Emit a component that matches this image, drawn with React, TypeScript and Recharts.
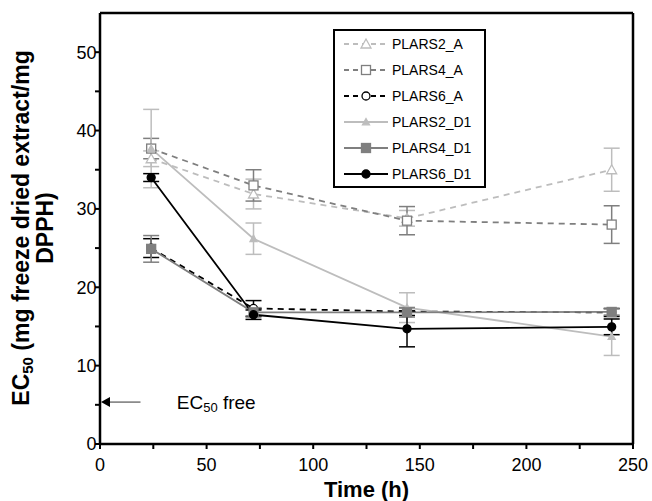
import React from "react";
import {
  LineChart,
  Line,
  XAxis,
  YAxis,
  ErrorBar,
  Legend,
  ReferenceLine,
  ReferenceDot,
} from "recharts";

const times = [24, 72, 144, 240];
const plars2A = [36.4, 31.9, 28.8, 35.0];
const plars2AErr = [1.0, 1.9, 1.0, 2.75];
const plars4A = [37.7, 33.0, 28.5, 28.0];
const plars4AErr = [1.3, 2.0, 1.8, 2.4];
const plars6A = [25.0, 17.3, 16.9, 16.8];
const plars6AErr = [1.2, 1.0, 0.5, 0.5];
const plars2D1 = [37.7, 26.2, 17.4, 13.7];
const plars2D1Err = [5.0, 2.0, 1.9, 2.4];
const plars4D1 = [24.9, 16.8, 16.8, 16.85];
const plars4D1Err = [1.7, 0.6, 0.6, 0.4];
const plars6D1 = [34.0, 16.5, 14.7, 14.95];
const plars6D1Err = [0.5, 0.6, 2.3, 1.0];

const xTicks = [0, 25, 50, 75, 100, 125, 150, 175, 200, 225, 250];
const yTicks = [0, 5, 10, 15, 20, 25, 30, 35, 40, 45, 50];
const ec50Free = 5.35;

const data = times.map((t, i) => ({
  t,
  a2: plars2A[i],
  a2e: plars2AErr[i],
  a4: plars4A[i],
  a4e: plars4AErr[i],
  a6: plars6A[i],
  a6e: plars6AErr[i],
  d2: plars2D1[i],
  d2e: plars2D1Err[i],
  d4: plars4D1[i],
  d4e: plars4D1Err[i],
  d6: plars6D1[i],
  d6e: plars6D1Err[i],
}));

const LIGHT = "#bdbdbd";
const MID = "#7f7f7f";
const DARK = "#000000";
const FONT = "'Liberation Sans', Arial, sans-serif";

type Shape = "triangle" | "square" | "circle" | "smalltri";

const marker = (shape: Shape, x: number, y: number, color: string, open: boolean, key?: string) => {
  const fill = open ? "#fff" : color;
  if (shape === "triangle" || shape === "smalltri") {
    const s = shape === "triangle" ? 5 : 3.5;
    return (
      <polygon
        key={key}
        points={`${x},${y - s} ${x - s},${y + s * 0.8} ${x + s},${y + s * 0.8}`}
        fill={fill}
        stroke={color}
        strokeWidth={1.3}
      />
    );
  }
  if (shape === "square") {
    return <rect key={key} x={x - 4.5} y={y - 4.5} width={9} height={9} fill={fill} stroke={color} strokeWidth={1.3} />;
  }
  return <circle key={key} cx={x} cy={y} r={4} fill={fill} stroke={color} strokeWidth={1.3} />;
};

const dotFn = (shape: Shape, color: string, open: boolean) => (props: any) =>
  marker(shape, props.cx, props.cy, color, open, `${shape}-${color}-${props.index}`);

const legendItems = [
  { name: "PLARS2_A", color: LIGHT, dash: true, shape: "triangle" as Shape, open: true },
  { name: "PLARS4_A", color: MID, dash: true, shape: "square" as Shape, open: true },
  { name: "PLARS6_A", color: DARK, dash: true, shape: "circle" as Shape, open: true },
  { name: "PLARS2_D1", color: LIGHT, dash: false, shape: "smalltri" as Shape, open: false },
  { name: "PLARS4_D1", color: MID, dash: false, shape: "square" as Shape, open: false },
  { name: "PLARS6_D1", color: DARK, dash: false, shape: "circle" as Shape, open: false },
];

const renderLegend = () => (
  <div
    style={{
      border: "2px solid #000",
      background: "#fff",
      width: 153,
      height: 159,
      boxSizing: "border-box",
      padding: "0 0 0 8px",
      fontFamily: FONT,
      fontSize: 14,
    }}
  >
    {legendItems.map((it) => (
      <div key={it.name} style={{ display: "flex", alignItems: "center", height: 26 }}>
        <svg width={46} height={14}>
          <line
            x1={1}
            y1={7}
            x2={45}
            y2={7}
            stroke={it.color}
            strokeWidth={1.8}
            strokeDasharray={it.dash ? "5 4" : undefined}
          />
          {marker(it.shape, 23, 7, it.color, it.open)}
        </svg>
        <span style={{ marginLeft: 3, color: "#000" }}>{it.name}</span>
      </div>
    ))}
  </div>
);

const FreeLabel = (props: any) => (
  <text x={props.cx} y={props.cy} dominantBaseline="central" fontFamily={FONT} fontSize={19} fill="#000">
    EC
    <tspan fontSize={13} dy={5}>50</tspan>
    <tspan dy={-5}> free</tspan>
  </text>
);

const ArrowHead = (props: any) => (
  <polygon
    points={`${props.cx + 1},${props.cy} ${props.cx + 10},${props.cy - 5} ${props.cx + 10},${props.cy + 5}`}
    fill="#000"
  />
);

const YTitle = () => (
  <g fontFamily={FONT} fontSize={23} fontWeight="bold" fill="#000">
    <text x={21} y={228} transform="rotate(-90 21 228)" textAnchor="middle" dominantBaseline="central">
      EC
      <tspan fontSize={15} dy={6}>50</tspan>
      <tspan dy={-6}> (mg freeze dried extract/mg</tspan>
    </text>
    <text x={45} y={228} transform="rotate(-90 45 228)" textAnchor="middle" dominantBaseline="central">
      DPPH)
    </text>
  </g>
);

const XTitle = (props: any) => {
  const vb = props.viewBox || { x: 100, width: 533 };
  return (
    <text
      x={vb.x + vb.width / 2}
      y={489}
      textAnchor="middle"
      dominantBaseline="central"
      fontFamily={FONT}
      fontSize={22}
      fontWeight="bold"
      fill="#000"
    >
      Time (h)
    </text>
  );
};

export default function App() {
  return (
    <div style={{ position: "absolute", left: 0, top: 0, background: "#fff" }}>
      <LineChart width={652} height={501} data={data} margin={{ top: 13, right: 19, left: 40, bottom: 0 }}>
        <XAxis
          dataKey="t"
          type="number"
          domain={[0, 250]}
          ticks={xTicks}
          tickFormatter={(v: number) => (v % 50 === 0 ? String(v) : "")}
          height={57}
          stroke="#000"
          axisLine={{ stroke: "#000", strokeWidth: 2.5 }}
          tickLine={{ stroke: "#000", strokeWidth: 2 }}
          tickSize={5}
          tick={{ fill: "#000", fontSize: 18, fontFamily: FONT, dy: 7 }}
          label={{ content: XTitle }}
        />
        <YAxis
          type="number"
          domain={[0, 55]}
          ticks={yTicks}
          tickFormatter={(v: number) => (v % 10 === 0 ? String(v) : "")}
          width={60}
          stroke="#000"
          axisLine={{ stroke: "#000", strokeWidth: 2.5 }}
          tickLine={{ stroke: "#000", strokeWidth: 2 }}
          tickSize={5}
          tick={{ fill: "#000", fontSize: 18, fontFamily: FONT, dx: 3.5 }}
          label={{ content: YTitle }}
        />
        <ReferenceLine y={55} stroke="#000" strokeWidth={2.5} />
        <ReferenceLine x={250} stroke="#000" strokeWidth={2.5} />
        <ReferenceLine
          segment={[
            { x: 4, y: ec50Free },
            { x: 19, y: ec50Free },
          ]}
          stroke="#333"
          strokeWidth={1}
        />
        <ReferenceDot x={0} y={ec50Free} r={0} shape={ArrowHead} />
        <ReferenceDot x={36} y={ec50Free} r={0} shape={FreeLabel} />

        <Line dataKey="a2" stroke={LIGHT} strokeWidth={1.8} strokeDasharray="6 5" dot={dotFn("triangle", LIGHT, true)} isAnimationActive={false}>
          <ErrorBar dataKey="a2e" direction="y" width={8} stroke={LIGHT} strokeWidth={1.5} />
        </Line>
        <Line dataKey="a4" stroke={MID} strokeWidth={1.8} strokeDasharray="6 5" dot={dotFn("square", MID, true)} isAnimationActive={false}>
          <ErrorBar dataKey="a4e" direction="y" width={8} stroke={MID} strokeWidth={1.5} />
        </Line>
        <Line dataKey="a6" stroke={DARK} strokeWidth={1.8} strokeDasharray="6 5" dot={dotFn("circle", DARK, true)} isAnimationActive={false}>
          <ErrorBar dataKey="a6e" direction="y" width={8} stroke={DARK} strokeWidth={1.5} />
        </Line>
        <Line dataKey="d2" stroke={LIGHT} strokeWidth={1.8} dot={dotFn("smalltri", LIGHT, false)} isAnimationActive={false}>
          <ErrorBar dataKey="d2e" direction="y" width={8} stroke={LIGHT} strokeWidth={1.5} />
        </Line>
        <Line dataKey="d4" stroke={MID} strokeWidth={1.8} dot={dotFn("square", MID, false)} isAnimationActive={false}>
          <ErrorBar dataKey="d4e" direction="y" width={8} stroke={MID} strokeWidth={1.5} />
        </Line>
        <Line dataKey="d6" stroke={DARK} strokeWidth={1.8} dot={dotFn("circle", DARK, false)} isAnimationActive={false}>
          <ErrorBar dataKey="d6e" direction="y" width={8} stroke={DARK} strokeWidth={1.5} />
        </Line>

        <Legend
          layout="horizontal"
          verticalAlign="middle"
          align="center"
          content={renderLegend}
          wrapperStyle={{ position: "absolute", left: 333, top: 29, width: 153, height: 159, bottom: "auto" }}
        />
      </LineChart>
    </div>
  );
}
